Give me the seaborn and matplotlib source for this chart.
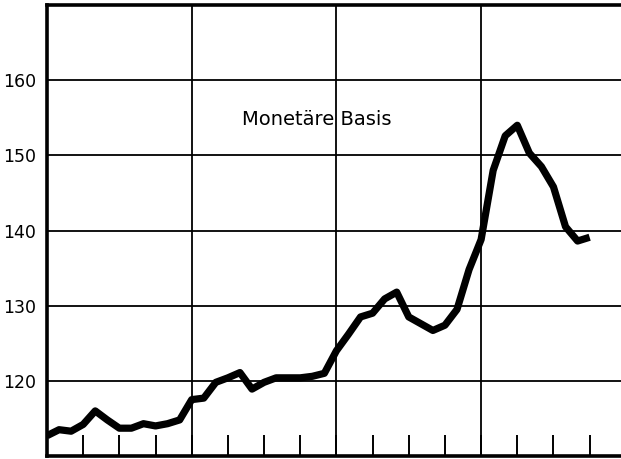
import matplotlib
matplotlib.use("Agg")
import matplotlib.pyplot as plt
import numpy as np
import pandas as pd
import seaborn as sns

# months since start of first year, monetary base index
months = list(range(46))
basis = [
    112.7, 113.5, 113.3, 114.2, 116.0, 114.8, 113.7, 113.7, 114.3, 114.0,
    114.3, 114.8, 117.5, 117.7, 119.8, 120.4, 121.1, 118.9, 119.8, 120.4,
    120.4, 120.4, 120.6, 121.0, 124.0, 126.2, 128.5, 129.0, 130.9, 131.8,
    128.5, 127.6, 126.7, 127.4, 129.5, 134.8, 138.8, 148.0, 152.6, 154.0,
    150.3, 148.5, 145.8, 140.5, 138.6, 139.1,
]
y_ticks = [120, 130, 140, 150, 160]
label = "Monetäre Basis"

df = pd.DataFrame({"month": months, "basis": basis})

sns.set_style("white")
plt.rcParams["font.family"] = ["DejaVu Sans"]
plt.rcParams["text.color"] = "black"
plt.rcParams["ytick.color"] = "black"

fig = plt.figure(figsize=(6.21, 4.59), dpi=100)
ax = fig.add_axes([47 / 621, 3 / 459, 1 - 47 / 621, 451 / 459])

sns.lineplot(data=df, x="month", y="basis", ax=ax, color="black", linewidth=5.2,
             solid_joinstyle="round", solid_capstyle="butt", zorder=3)

ax.set_xlim(0, 47.6)
ax.set_ylim(110, 170)

# grid: years vertically, every 10 index points horizontally
for yr in [12, 24, 36]:
    ax.axvline(yr, color="black", linewidth=1.3, zorder=2)
for yv in y_ticks:
    ax.axhline(yv, color="black", linewidth=1.3, zorder=2)

ax.set_yticks(y_ticks)
ax.set_yticklabels([str(v) for v in y_ticks], fontsize=12.5)
ax.tick_params(axis="y", left=False, length=0, pad=8, labelcolor="black")

# quarter ticks pointing inward from the bottom
ax.set_xticks(np.arange(3, 48, 3))
ax.set_xticklabels([])
ax.tick_params(axis="x", bottom=True, direction="in", length=15, width=1.4,
               color="black")

ax.set_xlabel("")
ax.set_ylabel("")

for side in ["left", "top", "bottom"]:
    ax.spines[side].set_color("black")
    ax.spines[side].set_linewidth(2.6)
ax.spines["right"].set_visible(False)

ax.text(16.2, 154.8, label, fontsize=14, color="black", ha="left",
        va="center", zorder=1)

fig.savefig("out.png", dpi=100)
